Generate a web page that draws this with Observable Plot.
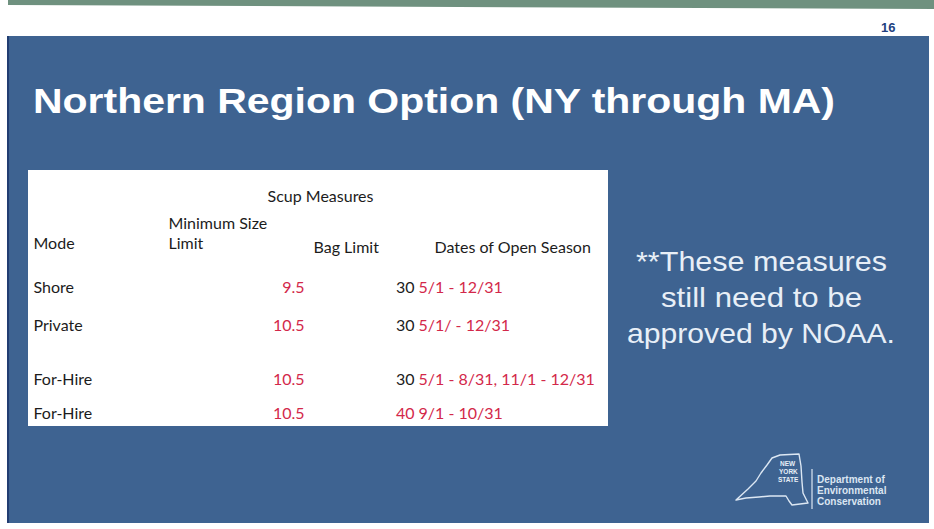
<!DOCTYPE html>
<html>
<head>
<meta charset="utf-8">
<script src="https://cdn.jsdelivr.net/npm/d3@7"></script>
<script src="https://cdn.jsdelivr.net/npm/@observablehq/plot@0.6"></script>
<style>
  html, body { margin: 0; padding: 0; background: #fff; width: 934px; height: 529px; overflow: hidden; }
  body { position: relative; font-family: "Liberation Sans", Arial, sans-serif; }
  #bar { position: absolute; left: 8px; top: 0; width: 926px; height: 9px; background: #6f917f;
         clip-path: polygon(0 0, 100% 0, 100% 100%, 0 55%); }
  #page { position: absolute; left: 881px; top: 20px; font: bold 13px "Liberation Sans", Arial, sans-serif; color: #223f80; }
  #panel { position: absolute; left: 7px; top: 36px; width: 920px; height: 487px; background: #3e6391;
           border-left: 2px solid #213d72; }
  #title { position: absolute; left: 33px; top: 83px; font: bold 35px/35px "Liberation Sans", Arial, sans-serif;
           color: #fff; white-space: nowrap; transform-origin: 0 0; }
  .note { position: absolute; font: 28px/28px "Liberation Sans", Arial, sans-serif; color: #e8eff7;
          white-space: nowrap; transform-origin: 0 0; }
  #table { position: absolute; left: 28px; top: 170px; line-height: 0; }
  #logo { position: absolute; left: 0; top: 0; }
  .dec { position: absolute; font: bold 10px/10px "Liberation Sans", Arial, sans-serif; color: #dbe6f2; white-space: nowrap; }
  .ny { position: absolute; font: bold 6.5px/6.5px "Liberation Sans", Arial, sans-serif; color: #e6eef7; white-space: nowrap; }
</style>
</head>
<body>
<div id="bar"></div>
<div id="page">16</div>
<div id="panel"></div>
<div id="title">Northern Region Option (NY through MA)</div>
<div class="note" id="n0"></div>
<div class="note" id="n1"></div>
<div class="note" id="n2"></div>
<div id="table"></div>
<svg id="logo" width="934" height="529" style="pointer-events:none">
  <path d="M736,500 L748,489 L756,481 L761,473 L767,465 L772,458 L780,455 L799,454 L801,466 L802,482 L803,493 L806,499 L808,503 L792,505 L789,501 L786,496 L770,496 L759,497 L746,498 Z"
        fill="none" stroke="#dce7f3" stroke-width="1.4" stroke-linejoin="round"/>
  <line x1="812" y1="469" x2="812" y2="509" stroke="#dce7f3" stroke-width="1.2"/>
</svg>
<div class="ny" style="left:780px;top:461px">NEW</div>
<div class="ny" style="left:779px;top:469px">YORK</div>
<div class="ny" style="left:778px;top:477px">STATE</div>
<div class="dec" style="left:817px;top:475px">Department of</div>
<div class="dec" style="left:817px;top:486px">Environmental</div>
<div class="dec" style="left:817px;top:497px">Conservation</div>

<script>
// ---- data ----
const tableTitle = "Scup Measures";
const headers = ["Mode", "Minimum Size\nLimit", "Bag Limit", "Dates of Open Season"];
const modes = ["Shore", "Private", "For-Hire", "For-Hire"];
const minSize = [9.5, 10.5, 10.5, 10.5];
const bagLimit = [30, 30, 30, 40];
const seasons = ["5/1 - 12/31", "5/1/ - 12/31", "5/1 - 8/31, 11/1 - 12/31", "9/1 - 10/31"];
const slideTitle = "Northern Region Option (NY through MA)";
const noteLines = ["**These measures", "still need to be", "approved by NOAA."];

// ---- note text (HTML), stretched to the slide's proportions ----
const noteCenter = 761, noteTop = [248, 284, 320], noteWidth = [251, 201, 268];
noteLines.forEach((t, i) => {
  const el = document.getElementById("n" + i);
  el.textContent = t;
  const w = el.getBoundingClientRect().width;
  el.style.left = (noteCenter - noteWidth[i] / 2) + "px";
  el.style.top = noteTop[i] + "px";
  el.style.transform = `scaleX(${noteWidth[i] / w})`;
});
{
  const el = document.getElementById("title");
  el.textContent = slideTitle;
  const w = el.getBoundingClientRect().width;
  el.style.transform = `scaleX(${802 / w})`;
}

// ---- table layout (not data) ----
const W = 580, H = 256;
const red = "#d3284a", ink = "#1c1c1c";
const headerX = [5, 140, 285, 406];
const headerY = [78, 78, 82, 82];
const rowY = [122, 160, 214, 248];
const col = {mode: 5, min: 276, bag: 386, dates: 390, title: 292};

const rows = modes.map((m, i) => ({
  i, mode: m, min: minSize[i].toFixed(1), bag: String(bagLimit[i]), season: seasons[i], y: rowY[i]
}));

const common = {fontSize: 16, lineAnchor: "bottom", lineHeight: 1.19};

const chart = Plot.plot({
  width: W, height: H, margin: 0,
  x: {domain: [0, W], range: [0, W], axis: null},
  y: {domain: [0, H], range: [0, H], axis: null},
  color: {type: "identity"},
  style: {background: "#ffffff", fontFamily: "Lato, 'Open Sans', sans-serif", color: ink},
  marks: [
    Plot.text([tableTitle], {...common, x: col.title, y: 31, text: d => d, textAnchor: "middle", fill: ink}),
    Plot.text(headers, {...common, x: (d, i) => headerX[i], y: (d, i) => headerY[i], text: d => d, textAnchor: "start", fill: ink}),
    Plot.text(rows, {...common, x: col.mode, y: "y", text: "mode", textAnchor: "start", fill: ink}),
    Plot.text(rows, {...common, x: col.min, y: "y", text: "min", textAnchor: "end", fill: red}),
    Plot.text(rows, {...common, x: col.bag, y: "y", text: "bag", textAnchor: "end", fill: d => d.i === 3 ? red : ink}),
    Plot.text(rows, {...common, x: col.dates, y: "y", text: "season", textAnchor: "start", fill: red})
  ]
});
document.getElementById("table").appendChild(chart);
</script>
</body>
</html>
